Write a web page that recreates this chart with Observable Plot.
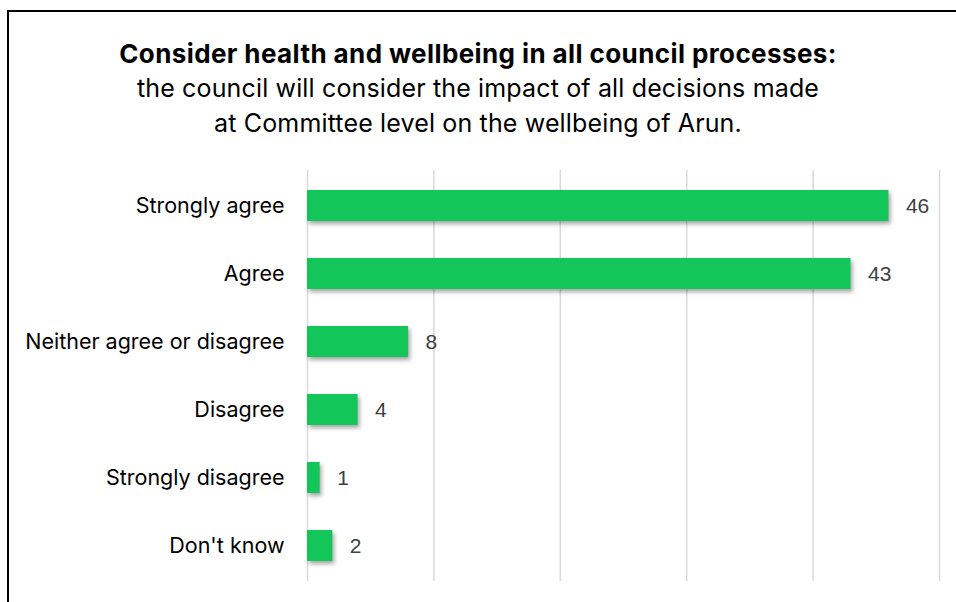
<!DOCTYPE html>
<html>
<head>
<meta charset="utf-8">
<script src="https://cdn.jsdelivr.net/npm/d3@7"></script>
<script src="https://cdn.jsdelivr.net/npm/@observablehq/plot@0.6"></script>
<style>
  html, body { margin: 0; padding: 0; background: #fff; width: 956px; height: 602px; overflow: hidden; }
  #frame { position: absolute; left: 7px; top: 10px; width: 1000px; height: 700px; border: 2px solid #000; box-sizing: border-box; pointer-events: none; }
  #header { position: absolute; left: 0; top: 0; width: 956px; height: 160px; text-align: center; font-family: "Inter", sans-serif; color: #000; }
  #title { position: absolute; left: 0; width: 956px; top: 37px; font-size: 26px; font-weight: 700; line-height: 34px; letter-spacing: 0.4px; }
  #sub { position: absolute; left: 0; width: 956px; top: 71px; font-size: 25px; font-weight: 400; line-height: 35px; letter-spacing: 0.15px; }
  #chart { position: absolute; left: 0; top: 160px; }
</style>
</head>
<body>
<div id="header">
  <div id="title">Consider health and wellbeing in all council processes:</div>
  <div id="sub">the council will consider the impact of all decisions made<br>at Committee level on the wellbeing of Arun.</div>
</div>
<div id="chart"></div>
<div id="frame"></div>
<script>
const categories = ["Strongly agree", "Agree", "Neither agree or disagree", "Disagree", "Strongly disagree", "Don't know"];
const values = [46, 43, 8, 4, 1, 2];
const xTicks = [0, 10, 20, 30, 40, 50];

const data = categories.map((c, i) => ({category: c, value: values[i]}));

const chart = Plot.plot({
  width: 956,
  height: 442,
  marginTop: 10,
  marginBottom: 21,
  marginLeft: 307,
  marginRight: 17,
  style: {fontFamily: "Inter, sans-serif", background: "transparent"},
  x: {domain: [0, 50], axis: null},
  y: {domain: categories, paddingInner: 0.54, paddingOuter: 0.27, label: null},
  marks: [
    Plot.gridX(xTicks, {stroke: "#d9d9d9", strokeOpacity: 1, strokeWidth: 1.5}),
    Plot.barX(data, {x: "value", y: "category", fill: "#13c65a"}),
    Plot.text(data, {x: "value", y: "category", text: d => String(d.value), textAnchor: "start", dx: 17, fill: "#404040", fontSize: 21, fontFamily: "Liberation Sans, Arial, sans-serif"}),
    Plot.axisY({tickSize: 0, tickPadding: 23, fontSize: 21, label: null, color: "#000"})
  ]
});
d3.select(chart).selectAll('g[aria-label="bar"] rect').style("filter", "drop-shadow(2px 3px 2px rgba(0,0,0,0.35))");
d3.select(chart).selectAll('g[aria-label="y-axis tick label"]').attr("font-size", "21.5px").style("font-size", "21.5px");
d3.select(chart).selectAll('g[aria-label="y-axis tick label"] text').attr("fill", "#000");
document.getElementById("chart").appendChild(chart);
</script>
</body>
</html>
